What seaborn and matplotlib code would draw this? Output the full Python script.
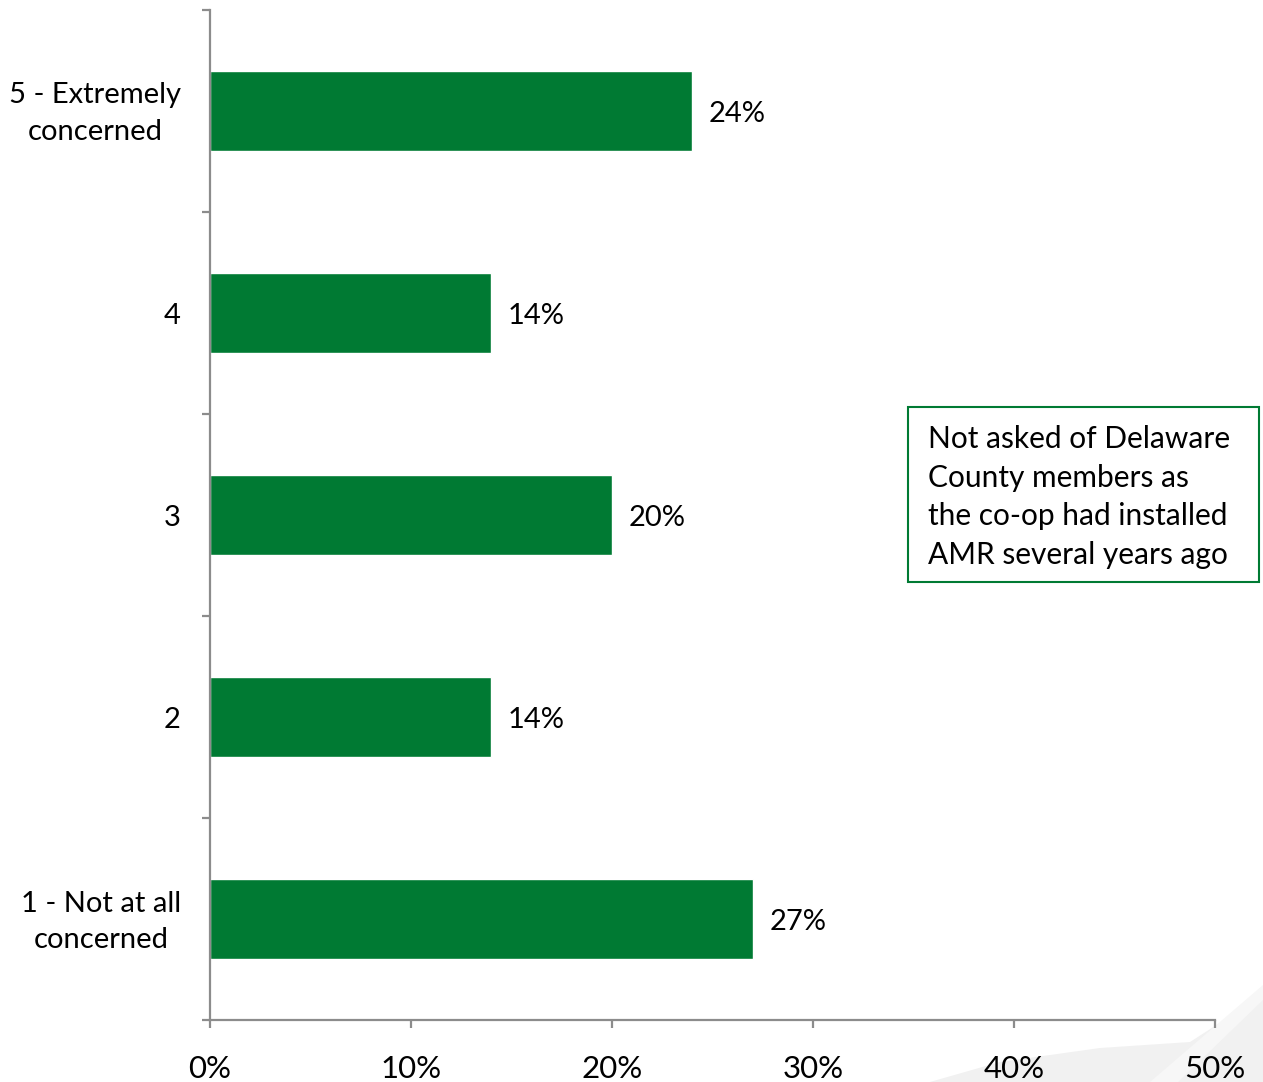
import matplotlib
matplotlib.use("Agg")
import matplotlib.pyplot as plt
import matplotlib.transforms as mtransforms
import seaborn as sns
import pandas as pd
from matplotlib.patches import Rectangle, Polygon
from matplotlib.ticker import FixedLocator, PercentFormatter

# Survey responses: level of concern (top to bottom)
categories = ["5 - Extremely\nconcerned", "4", "3", "2", "1 - Not at all\nconcerned"]
shares = [24, 14, 20, 14, 27]
x_ticks = [0, 10, 20, 30, 40, 50]
note_text = ("Not asked of Delaware\nCounty members as\n"
             "the co-op had installed\nAMR several years ago")

GREEN = "#007A33"
AXIS_GRAY = "#8C8C8C"

sns.set_theme(style="white")
plt.rcParams["font.family"] = ["Lato", "DejaVu Sans"]

df = pd.DataFrame({"category": categories, "share": shares})

W, H = 1263, 1082
fig = plt.figure(figsize=(W / 100, H / 100), dpi=100)

# Faint decorative swoosh in the lower right corner of the slide background
def fpt(x, y):
    return (x / W, 1 - y / H)

fig.patches.append(Polygon([fpt(930, 1082), fpt(1000, 1062), fpt(1100, 1048),
                            fpt(1190, 1042), fpt(1263, 995), fpt(1263, 1082)],
                           closed=True, transform=fig.transFigure,
                           facecolor="#F1F1F1", edgecolor="none", zorder=-2))
fig.patches.append(Polygon([fpt(1150, 1082), fpt(1263, 985), fpt(1263, 1000),
                            fpt(1178, 1082)],
                           closed=True, transform=fig.transFigure,
                           facecolor="#F7F7F7", edgecolor="none", zorder=-1))

ax = fig.add_axes([210 / W, 1 - 1020 / H, (1215 - 210) / W, (1020 - 10) / H])
ax.patch.set_alpha(0)

sns.barplot(data=df, x="share", y="category", orient="h", color=GREEN,
            saturation=1, width=0.4, ax=ax)

ax.set_xlim(0, 50)
ax.set_ylim(len(categories) - 0.5, -0.5)
ax.set_xlabel("")
ax.set_ylabel("")

# Spines: only left and bottom, gray
for side in ["top", "right"]:
    ax.spines[side].set_visible(False)
for side in ["left", "bottom"]:
    ax.spines[side].set_color(AXIS_GRAY)
    ax.spines[side].set_linewidth(1.6)

# X axis ticks and percent labels
ax.set_xticks(x_ticks)
ax.xaxis.set_major_formatter(PercentFormatter(decimals=0))
ax.tick_params(axis="x", direction="out", length=6, width=1.6, color=AXIS_GRAY,
               pad=19, labelsize=22.5, labelcolor="black", bottom=True)

# Y axis: labels at bar centres, tick marks at category boundaries
ax.tick_params(axis="y", which="major", length=0, pad=21, labelsize=21,
               labelcolor="black", left=True)
ax.yaxis.set_minor_locator(FixedLocator([i - 0.5 for i in range(len(categories) + 1)]))
ax.tick_params(axis="y", which="minor", direction="out", length=6, width=1.6,
               color=AXIS_GRAY, left=True)
lift = mtransforms.ScaledTranslation(0, 5 / 100, fig.dpi_scale_trans)
for tick in ax.yaxis.get_major_ticks():
    lab = tick.label1
    lab.set_multialignment("center")
    lab.set_linespacing(1.5)
    if "\n" in lab.get_text():
        lab.set_transform(lab.get_transform() + lift)

# Value labels
for container in ax.containers:
    texts = ax.bar_label(container, labels=[f"{v:.0f}%" for v in container.datavalues],
                         padding=12, fontsize=21, color="black")
    for t in texts:
        t.set_va("center_baseline")

# Note box
fig.patches.append(Rectangle((908 / W, 1 - 582 / H), (1259 - 908) / W,
                             (582 - 407) / H, transform=fig.transFigure,
                             facecolor="white", edgecolor=GREEN, linewidth=1.5))
fig.text(928 / W, 1 - 497 / H, note_text, ha="left", va="center",
         fontsize=21.5, linespacing=1.45, color="black")

fig.savefig("out.png", dpi=100)
